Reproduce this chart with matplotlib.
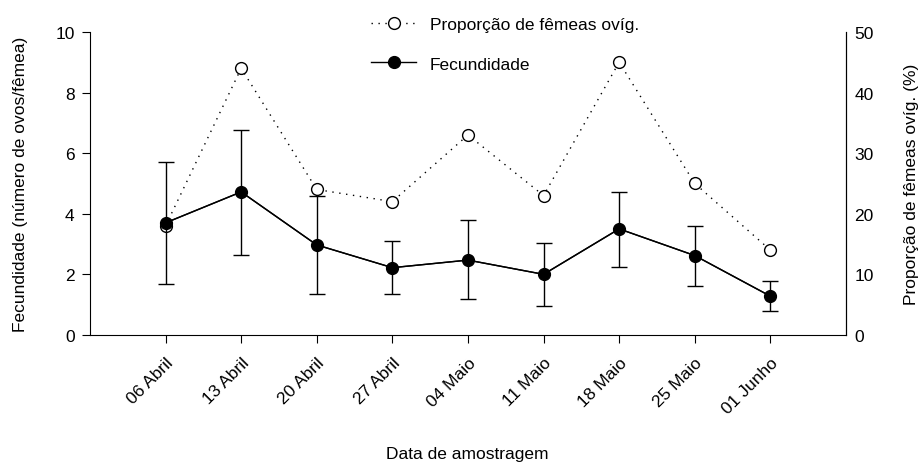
import numpy as np
import matplotlib.pyplot as plt

plt.rcParams['font.family'] = ['Liberation Sans', 'DejaVu Sans']

datas = ["06 Abril", "13 Abril", "20 Abril", "27 Abril", "04 Maio",
         "11 Maio", "18 Maio", "25 Maio", "01 Junho"]
fecundidade = [3.7, 4.72, 2.97, 2.22, 2.47, 2.0, 3.5, 2.62, 1.28]
fec_sup = [5.72, 6.77, 4.6, 3.1, 3.78, 3.05, 4.73, 3.6, 1.77]
fec_inf = [1.67, 2.65, 1.35, 1.35, 1.18, 0.97, 2.25, 1.62, 0.8]
proporcao = [18, 44, 24, 22, 33, 23, 45, 25, 14]

x = np.arange(len(datas))
fec = np.array(fecundidade)
err = [fec - np.array(fec_inf), np.array(fec_sup) - fec]

fig = plt.figure(figsize=(9.23, 4.64), dpi=100)
ax = fig.add_axes([0.0975, 0.276, 0.819, 0.653])
ax2 = ax.twinx()

l1, = ax2.plot(x, proporcao, linestyle=(0, (1, 4)), color='black', lw=1,
               marker='o', mfc='white', mec='black', ms=8.5, mew=1,
               label="Proporção de fêmeas ovíg.")
ax.errorbar(x, fec, yerr=err, color='black', lw=1, capsize=6, capthick=1,
            elinewidth=1, zorder=3)
l2, = ax.plot(x, fec, color='black', lw=1, marker='o', ms=8.5,
              label="Fecundidade", zorder=4)
ax.set_zorder(ax2.get_zorder() + 1)
ax.patch.set_visible(False)

ax.set_xlim(-1, 9)
ax.set_ylim(0, 10)
ax2.set_ylim(0, 50)
ax.set_xticks(x)
ax.set_xticklabels(datas, rotation=45, ha='right', rotation_mode='anchor',
                   fontsize=12.5)
ax.set_yticks([0, 2, 4, 6, 8, 10])
ax2.set_yticks([0, 10, 20, 30, 40, 50])
ax.tick_params(axis='y', labelsize=12.5, direction='out', length=6, pad=5)
ax.tick_params(axis='x', direction='out', length=6, pad=8)
ax2.tick_params(axis='y', labelsize=12.5, length=0, pad=6)

for a in (ax, ax2):
    a.spines['top'].set_visible(False)
ax2.spines['left'].set_visible(False)
ax2.spines['bottom'].set_visible(False)

ax.set_ylabel("Fecundidade (número de ovos/fêmea)", fontsize=12.5, labelpad=20)
ax2.set_ylabel("Proporção de fêmeas ovíg. (%)", fontsize=12.5, labelpad=22)
fig.text(0.506, 0.005, "Data de amostragem", fontsize=12.5, ha='center',
         va='bottom')

fig.legend(handles=[l1, l2], loc='upper left', bbox_to_anchor=(0.385, 0.995),
           frameon=False, fontsize=12.5, handlelength=2.6, labelspacing=1.4)

fig.savefig("out.png", dpi=100)
